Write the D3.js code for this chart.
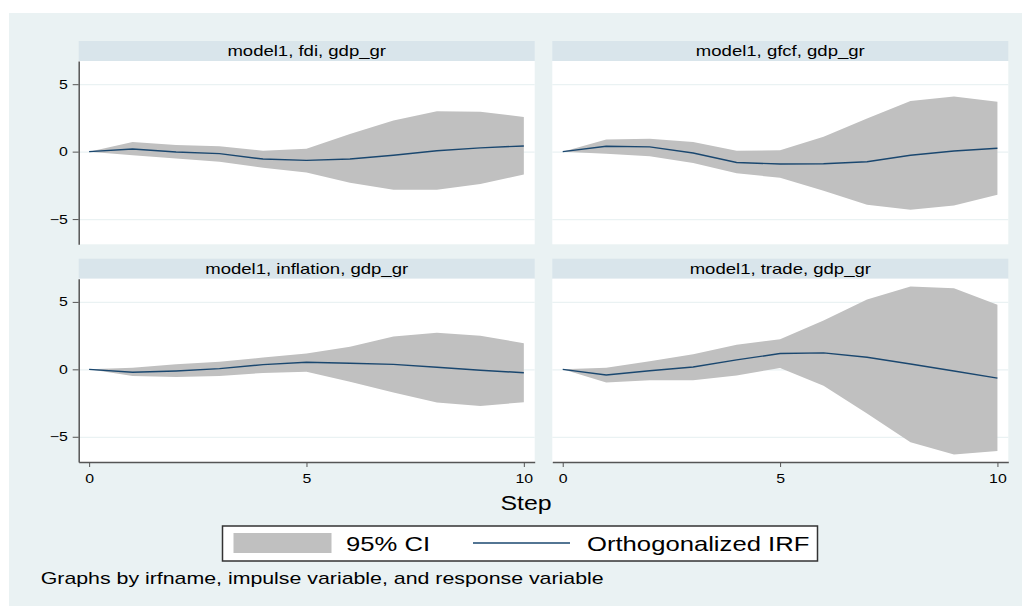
<!DOCTYPE html>
<html>
<head>
<meta charset="utf-8">
<script src="https://cdn.jsdelivr.net/npm/d3@7/dist/d3.min.js"></script>
<style>
  body { margin: 0; background: #ffffff; }
  text { font-family: "Liberation Sans", Arial, sans-serif; fill: #000; }
</style>
</head>
<body>
<svg id="chart" width="1031" height="606"></svg>
<script>
// Impulse response functions (Stata irf graph oirf)

const steps = [0, 1, 2, 3, 4, 5, 6, 7, 8, 9, 10];
const xTicks = [0, 5, 10];
const yTicks = [-5, 0, 5];

const panelTitles = ["model1, fdi, gdp_gr", "model1, gfcf, gdp_gr",
                     "model1, inflation, gdp_gr", "model1, trade, gdp_gr"];

const fdiIrf = [0, 0.2, -0.03, -0.15, -0.55, -0.65, -0.55, -0.27, 0.07, 0.28, 0.42];
const fdiLo  = [0, -0.27, -0.5, -0.75, -1.2, -1.55, -2.3, -2.83, -2.83, -2.4, -1.7];
const fdiHi  = [0, 0.72, 0.5, 0.4, 0.07, 0.22, 1.3, 2.3, 3.0, 2.95, 2.57];

const gfcfIrf = [0, 0.4, 0.35, -0.1, -0.8, -0.92, -0.9, -0.75, -0.27, 0.05, 0.25];
const gfcfLo  = [0, -0.15, -0.35, -0.85, -1.6, -1.94, -2.9, -3.93, -4.3, -4.0, -3.2];
const gfcfHi  = [0, 0.9, 0.95, 0.72, 0.07, 0.1, 1.1, 2.46, 3.76, 4.08, 3.7];

const inflIrf = [0, -0.22, -0.12, 0.05, 0.35, 0.52, 0.45, 0.37, 0.15, -0.07, -0.25];
const inflLo  = [0, -0.5, -0.57, -0.5, -0.27, -0.17, -0.92, -1.72, -2.46, -2.71, -2.44];
const inflHi  = [0, 0.12, 0.37, 0.57, 0.87, 1.17, 1.67, 2.44, 2.71, 2.49, 1.94];

const tradeIrf = [0, -0.42, -0.1, 0.17, 0.7, 1.17, 1.22, 0.9, 0.4, -0.12, -0.65];
const tradeLo  = [0, -0.97, -0.8, -0.8, -0.45, 0.1, -1.22, -3.28, -5.4, -6.32, -6.05];
const tradeHi  = [0, 0.12, 0.6, 1.12, 1.82, 2.24, 3.63, 5.17, 6.14, 6.02, 4.78];

const legendLabels = ["95% CI", "Orthogonalized IRF"];
const xTitle = "Step";
const note = "Graphs by irfname, impulse variable, and response variable";

// the picture is stretched sideways, so text is too
const SX = 1.27;

const series = [
    {irf: fdiIrf, lo: fdiLo, hi: fdiHi},
    {irf: gfcfIrf, lo: gfcfLo, hi: gfcfHi},
    {irf: inflIrf, lo: inflLo, hi: inflHi},
    {irf: tradeIrf, lo: tradeLo, hi: tradeHi}
];

const svg = d3.select("#chart");

// graph region background
svg.append("rect")
    .attr("x", 9).attr("y", 13)
    .attr("width", 1013).attr("height", 593)
    .attr("fill", "#eaf2f3");

function addText(parent, x, y, s, size, anchor) {
    return parent.append("text")
        .attr("transform", "translate(" + x + "," + y + ") scale(" + SX + ",1)")
        .attr("text-anchor", anchor)
        .style("font-size", size + "px")
        .text(s);
}

// stretch the tick labels that d3 axes made
function stretchTicks(g) {
    g.selectAll(".tick text").each(function() {
        const t = d3.select(this);
        const x = +t.attr("x") || 0, y = +t.attr("y") || 0;
        t.attr("transform", "translate(" + x + "," + y + ") scale(" + SX + ",1)")
            .attr("x", 0).attr("y", 0)
            .style("font-size", "12.5px")
            .attr("fill", "#000");
    });
}

const panelLefts = [78.7, 552.3];
const panelTops = [61, 278.7];
const plotW = 456, plotH = 183.3, headH = 20;

series.forEach((s, i) => {
    const col = i % 2, row = Math.floor(i / 2);
    const left = panelLefts[col], top = panelTops[row];

    const x = d3.scaleLinear().domain([-0.24, 10.25]).range([left, left + plotW]);
    const y = d3.scaleLinear().domain([-6.87, 6.72]).range([top + plotH, top]);

    // title strip
    svg.append("rect")
        .attr("x", left).attr("y", top - headH)
        .attr("width", plotW).attr("height", headH)
        .attr("fill", "#d9e5eb");
    addText(svg, left + plotW / 2, top - 5, panelTitles[i], 14.6, "middle");

    // plot region
    svg.append("rect")
        .attr("x", left).attr("y", top)
        .attr("width", plotW).attr("height", plotH)
        .attr("fill", "#ffffff");

    // gridlines
    svg.append("g")
        .attr("transform", "translate(" + left + ",0)")
        .call(d3.axisLeft(y).tickValues(yTicks).tickSize(-plotW).tickFormat(""))
        .call(g => g.select(".domain").remove())
        .call(g => g.selectAll(".tick line").attr("stroke", "#eaf2f3").attr("stroke-width", 1.2));

    // confidence band
    const area = d3.area()
        .x((d, k) => x(steps[k]))
        .y0((d, k) => y(s.lo[k]))
        .y1((d, k) => y(s.hi[k]));
    svg.append("path")
        .datum(steps)
        .attr("d", area)
        .attr("fill", "#c0c0c0");

    // IRF line
    const line = d3.line()
        .x((d, k) => x(steps[k]))
        .y(d => y(d));
    svg.append("path")
        .datum(s.irf)
        .attr("d", line)
        .attr("fill", "none")
        .attr("stroke", "#1a476f")
        .attr("stroke-width", 1.4);

    // y axis on left column
    if (col === 0) {
        const gy = svg.append("g")
            .attr("transform", "translate(" + left + ",0)")
            .call(d3.axisLeft(y).tickValues(yTicks).tickSize(6).tickSizeOuter(0).tickPadding(5));
        gy.select(".domain").attr("stroke", "#555").attr("stroke-width", 1.5);
        gy.selectAll(".tick line").attr("stroke", "#555");
        stretchTicks(gy);
    }

    // x axis on bottom row
    if (row === 1) {
        const gx = svg.append("g")
            .attr("transform", "translate(0," + (top + plotH) + ")")
            .call(d3.axisBottom(x).tickValues(xTicks).tickSize(5).tickSizeOuter(0).tickPadding(7));
        gx.select(".domain").attr("stroke", "#555").attr("stroke-width", 1.5);
        gx.selectAll(".tick line").attr("stroke", "#555");
        stretchTicks(gx);
    }
});

// x axis title
addText(svg, 526, 509.5, xTitle, 19.6, "middle");

// legend
const legend = svg.append("g");
legend.append("rect")
    .attr("x", 222.5).attr("y", 526)
    .attr("width", 595).attr("height", 35)
    .attr("fill", "#ffffff")
    .attr("stroke", "#333").attr("stroke-width", 1.5);
legend.append("rect")
    .attr("x", 233.5).attr("y", 533)
    .attr("width", 98).attr("height", 20)
    .attr("fill", "#c0c0c0");
addText(legend, 346, 550.5, legendLabels[0], 20.2, "start");
legend.append("line")
    .attr("x1", 473).attr("x2", 570)
    .attr("y1", 543).attr("y2", 543)
    .attr("stroke", "#1a476f").attr("stroke-width", 1.4);
addText(legend, 587, 550.5, legendLabels[1], 20.2, "start");

// note
addText(svg, 40.7, 584, note, 16.8, "start");
</script>
</body>
</html>
